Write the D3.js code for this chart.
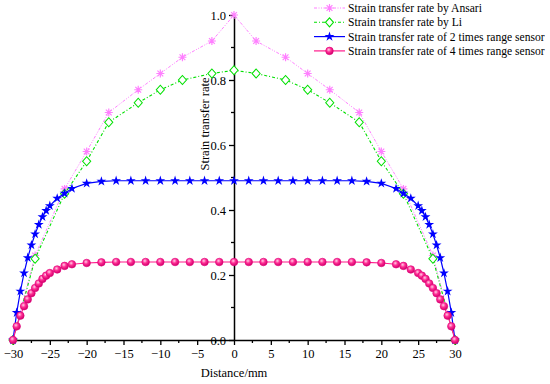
<!DOCTYPE html>
<html>
<head>
<meta charset="utf-8">
<script src="https://cdn.jsdelivr.net/npm/d3@7"></script>
<style>
  body { margin: 0; background: #fff; }
</style>
</head>
<body>
<svg id="chart" width="550" height="384"></svg>
<script>
// reference curves (Ansari / Li), same stations
let refX = [-30, -27, -23, -20, -17, -13, -10, -7, -3, 0, 3, 7, 10, 13, 17, 20, 23, 27, 30];
let ansari = [0, 0.26, 0.465, 0.58, 0.70, 0.77, 0.82, 0.87, 0.92, 1.0, 0.92, 0.87, 0.82, 0.77, 0.70, 0.58, 0.465, 0.26, 0];
let li = [0, 0.25, 0.45, 0.55, 0.67, 0.73, 0.77, 0.80, 0.82, 0.83, 0.82, 0.80, 0.77, 0.73, 0.67, 0.55, 0.45, 0.25, 0];

// sensor curves, denser near the ends
let sensorX = [-30, -29.5, -29, -28.5, -28, -27.5, -27, -26.5, -26, -25.5, -25, -24, -23, -22, -20, -18,
    -16, -14, -12, -10, -8, -6, -4, -2, 0, 2, 4, 6, 8, 10, 12, 14, 16,
    18, 20, 22, 23, 24, 25, 25.5, 26, 26.5, 27, 27.5, 28, 28.5, 29, 29.5, 30];
let sensor2 = [0, 0.084, 0.15, 0.206, 0.253, 0.292, 0.326, 0.355, 0.379, 0.398, 0.413, 0.436, 0.451, 0.466, 0.482, 0.488,
    0.49, 0.49, 0.49, 0.49, 0.49, 0.49, 0.49, 0.49, 0.49, 0.49, 0.49, 0.49, 0.49, 0.49, 0.49, 0.49, 0.49,
    0.488, 0.482, 0.466, 0.451, 0.436, 0.413, 0.398, 0.379, 0.355, 0.326, 0.292, 0.253, 0.206, 0.15, 0.084, 0];
let sensor4 = [0, 0.042, 0.075, 0.104, 0.125, 0.144, 0.16, 0.174, 0.188, 0.198, 0.206, 0.217, 0.228, 0.233, 0.237, 0.239,
    0.24, 0.24, 0.24, 0.24, 0.24, 0.24, 0.24, 0.24, 0.24, 0.24, 0.24, 0.24, 0.24, 0.24, 0.24, 0.24, 0.24,
    0.239, 0.237, 0.233, 0.228, 0.217, 0.206, 0.198, 0.188, 0.174, 0.16, 0.144, 0.125, 0.104, 0.075, 0.042, 0];

let xMajor = [-30, -25, -20, -15, -10, -5, 0, 5, 10, 15, 20, 25, 30];
let xMinor = [-27.5, -22.5, -17.5, -12.5, -7.5, -2.5, 2.5, 7.5, 12.5, 17.5, 22.5, 27.5];
let yMajor = [0, 0.2, 0.4, 0.6, 0.8, 1.0];
let yMinor = [0.1, 0.3, 0.5, 0.7, 0.9];

let legendNames = ['Strain transfer rate by Ansari', 'Strain transfer rate by Li',
    'Strain transfer rate of 2 times range sensor', 'Strain transfer rate of 4 times range sensor'];

const serif = 'Liberation Serif';
let svg = d3.select('#chart');
let x = d3.scaleLinear().domain([-30, 30]).range([13, 455]);
let y = d3.scaleLinear().domain([0, 1]).range([340, 15]);

// ball gradient for the 4x markers
let defs = svg.append('defs');
let grad = defs.append('radialGradient').attr('id', 'ball')
    .attr('cx', '40%').attr('cy', '35%').attr('r', '65%');
grad.append('stop').attr('offset', '0%').attr('stop-color', '#ffd0e6');
grad.append('stop').attr('offset', '45%').attr('stop-color', '#ff2f95');
grad.append('stop').attr('offset', '100%').attr('stop-color', '#d0006a');

// axes
let gx = svg.append('g').attr('transform', 'translate(0,340)');
gx.call(d3.axisBottom(x).tickValues(xMajor).tickSize(5).tickSizeOuter(0).tickPadding(4).tickFormat(d3.format('d')));
gx.attr('font-family', serif).attr('font-size', 12.5);
gx.selectAll('.tick line').attr('stroke-width', 1.3);
gx.select('.domain').attr('stroke-width', 1.5);
gx.selectAll('.tick text').attr('fill', '#000');
gx.selectAll('.minor').data(xMinor).enter().append('line')
    .attr('x1', d => x(d)).attr('x2', d => x(d)).attr('y1', 0).attr('y2', 3)
    .attr('stroke', '#000').attr('stroke-width', 1.3);

let gy = svg.append('g').attr('transform', 'translate(' + x(0) + ',0)');
gy.call(d3.axisLeft(y).tickValues(yMajor).tickSize(5).tickSizeOuter(0).tickPadding(3).tickFormat(d3.format('.1f')));
gy.attr('font-family', serif).attr('font-size', 12.5);
gy.selectAll('.tick line').attr('stroke-width', 1.3);
gy.select('.domain').attr('stroke-width', 1.5);
gy.selectAll('.tick text').attr('fill', '#000');
gy.selectAll('.minor').data(yMinor).enter().append('line')
    .attr('x1', 0).attr('x2', -3).attr('y1', d => y(d)).attr('y2', d => y(d))
    .attr('stroke', '#000').attr('stroke-width', 1.3);

svg.append('text').attr('x', x(0)).attr('y', 377).attr('text-anchor', 'middle')
    .attr('font-family', serif).attr('font-size', 12.5).text('Distance/mm');
svg.append('text').attr('transform', 'translate(209,124) rotate(-90)').attr('text-anchor', 'middle')
    .attr('font-family', serif).attr('font-size', 12.5).text('Strain transfer rate');

// series
let line = d3.line().x(d => x(d[0])).y(d => y(d[1]));
let zip = (xs, ys) => xs.map((v, i) => [v, ys[i]]);

let series = [
    {data: zip(refX, ansari), color: '#ff80ff', dash: '3,1.5,1,1.5,1,1.5', width: 1, marker: 'asterisk'},
    {data: zip(refX, li), color: '#00e000', dash: '3,2,1,2', width: 1.1, marker: 'diamond'},
    {data: zip(sensorX, sensor2), color: '#0000ff', dash: null, width: 1.2, marker: 'star'},
    {data: zip(sensorX, sensor4), color: '#ff1a8c', dash: null, width: 1.2, marker: 'ball'}
];

function drawMarker(g, type, color) {
    if (type === 'asterisk') {
        g.append('path').attr('d', 'M-4,0L4,0M0,-4L0,4M-2.9,-2.9L2.9,2.9M-2.9,2.9L2.9,-2.9')
            .attr('stroke', color).attr('stroke-width', 1.2).attr('fill', 'none');
    } else if (type === 'diamond') {
        g.append('path').attr('d', 'M0,-4.5L4,0L0,4.5L-4,0Z')
            .attr('stroke', color).attr('stroke-width', 1.1).attr('fill', '#fff');
    } else if (type === 'star') {
        g.append('path').attr('d', d3.symbol(d3.symbolStar, 30)()).attr('fill', color);
    } else {
        g.append('circle').attr('r', 3.8).attr('fill', 'url(#ball)').attr('stroke', '#e0007a').attr('stroke-width', 0.6);
    }
}

series.forEach(function (s) {
    svg.append('path').datum(s.data).attr('d', line).attr('fill', 'none')
        .attr('stroke', s.color).attr('stroke-width', s.width).attr('stroke-dasharray', s.dash);
    s.data.forEach(function (p) {
        let g = svg.append('g').attr('transform', 'translate(' + x(p[0]) + ',' + y(p[1]) + ')');
        drawMarker(g, s.marker, s.color);
    });
});

// legend
series.forEach(function (s, i) {
    let ly = 8 + i * 14.3;
    let g = svg.append('g');
    g.append('line').attr('x1', 314).attr('x2', 345).attr('y1', ly).attr('y2', ly)
        .attr('stroke', s.color).attr('stroke-width', s.width).attr('stroke-dasharray', s.dash);
    drawMarker(g.append('g').attr('transform', 'translate(329.5,' + ly + ')'), s.marker, s.color);
    g.append('text').attr('x', 348).attr('y', ly + 4).attr('font-family', serif)
        .attr('font-size', 11.6).text(legendNames[i]);
});
</script>
</body>
</html>
